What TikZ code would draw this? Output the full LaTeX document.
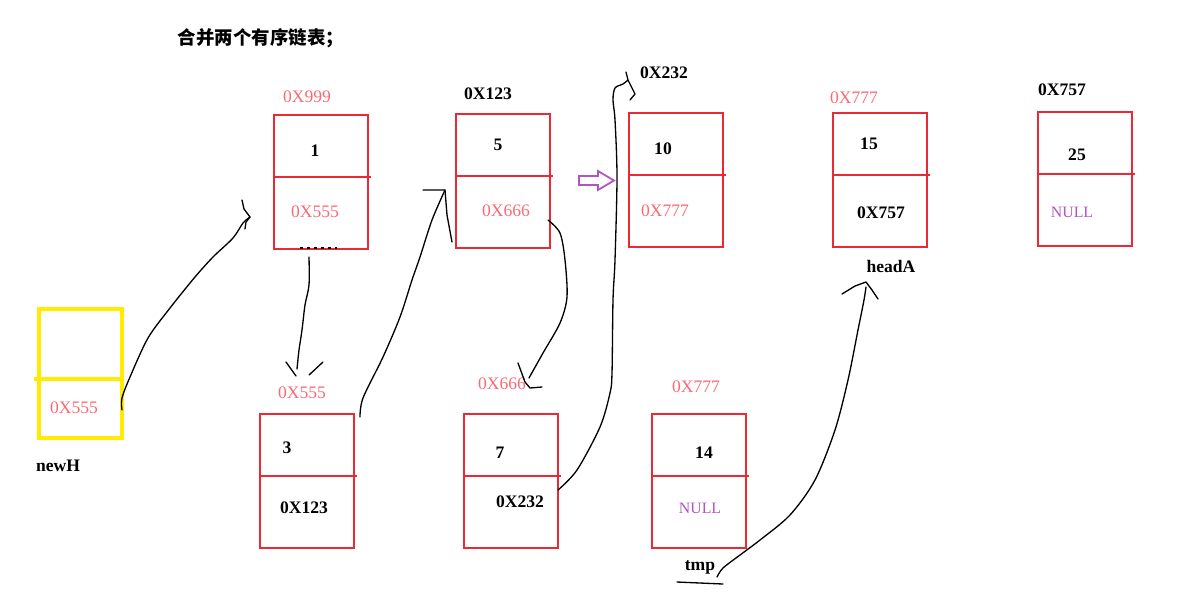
\documentclass[tikz,border=0pt]{standalone}
\usepackage{fontspec}
\setmainfont{Liberation Serif}
\newfontfamily\cjk{Noto Sans CJK SC}
\usetikzlibrary{calc}
\definecolor{boxred}{RGB}{236,40,52}
\definecolor{addrpink}{RGB}{250,105,115}
\definecolor{nullpurple}{RGB}{175,85,190}
\definecolor{headyellow}{RGB}{255,236,0}

\begin{document}
\begin{tikzpicture}[x=0.02cm,y=-0.02cm,
    every node/.style={font=\fontsize{10}{12}\selectfont},
    listbox/.style={draw=boxred,line width=1.3pt,minimum width=1.88cm,
      minimum height=2.68cm,anchor=north west,inner sep=0pt},
    addr/.style={text=addrpink},
    val/.style={font=\fontsize{10}{12}\selectfont\bfseries},
    nul/.style={text=nullpurple,font=\fontsize{9}{11}\selectfont},
    hand/.style={line width=0.75pt,line join=round,line cap=round}]
  \useasboundingbox (0,0) rectangle (1204,610);
  \node[font=\cjk\bfseries\fontsize{10.5}{12}\selectfont] (title) at (261,38) {合并两个有序链表；};

  % list boxes
  \foreach \n/\x/\y in {b1/273/114,b5/455/113,b10/628/112,b15/832/112,
                        b25/1037/111,b3/259/413,b7/463/413,b14/651/413}{
    \node[listbox] (\n) at (\x,\y) {};
    \draw[boxred,line width=1.3pt] ($(\n.north west)+(0,63)$) -- ++(98,0);
  }
  \node[listbox,draw=headyellow,line width=2.2pt,minimum width=1.66cm,
    minimum height=2.58cm] (hy) at (37,307) {};
  \draw[headyellow,line width=2.2pt] ($(hy.north west)+(-3,72)$) -- ++(86,0);

  % addresses above the boxes
  \node[addr] (a999) at (307,97) {0X999};
  \node[val] (a123) at (488,94) {0X123};
  \node[val] (a232) at (664,73) {0X232};
  \node[addr] (a777) at (854,98) {0X777};
  \node[val] (a757) at (1062,90) {0X757};
  \node[addr] (a555) at (302,393) {0X555};
  \node[addr] (a666) at (502,384) {0X666};
  \node[addr] (a777b) at (696,387) {0X777};

  % data and next fields
  \foreach \n/\x/\y/\t in {v1/315/151/1,v5/498/145/5,v10/663/149/10,
                           v15/869/144/15,v25/1077/155/25,v3/287/448/3,
                           v7/500/453/7,v14/704/453/14,p15/881/213/0X757,
                           p3/304/508/0X123,p7/520/502/0X232}{
    \node[val] (\n) at (\x,\y) {\t};
  }
  \node[addr] (p1) at (315,212) {0X555};
  \node[addr] (p5) at (506,211) {0X666};
  \node[addr] (p10) at (665,211) {0X777};
  \node[nul] (p25) at (1072,212) {NULL};
  \node[nul] (p14) at (700,508) {NULL};
  \node[addr] (pH) at (74,408) {0X555};

  \node[val] (newH) at (58,466) {newH};
  \node[val] (headA) at (891,266) {headA};
  \node[val] (tmp) at (700,567) {tmp};

  \draw[line width=1pt,dash pattern=on 1.5pt off 2.5pt] (300,248) -- (337,248);

  % purple pointer
  \draw[nullpurple,line width=1pt] (579,176) -- (598,176) -- (598,171) -- (614,180.5)
    -- (598,190) -- (598,185) -- (579,185) -- cycle;

  % hand drawn links
  \coordinate (s1) at (122,410);
  \coordinate (e1) at (250,217);
  \draw[hand] plot[smooth] coordinates {(s1) (122,398) (130,377) (148,338)
    (170,308) (195,277) (213,257) (233,238) (243,223) (e1)};
  \draw[hand] (242,200) -- (244,209) -- (e1) -- (246,222) -- (245,229);

  \coordinate (s2) at (309,257);
  \coordinate (e2) at (297,369);
  \draw[hand] plot[smooth] coordinates {(s2) (309,285) (305,305) (302,330) (299,350) (e2)};
  \draw[hand] (286,362) -- (296,376);
  \draw[hand] (323,362) -- (309,375);

  \coordinate (s3) at (360,417);
  \coordinate (e3) at (445,190);
  \draw[hand] plot[smooth] coordinates {(s3) (363,398) (383,357) (400,317)
    (412,280) (420,257) (432,220) (e3)};
  \draw[hand] (423,190) -- (e3) -- (447,215) -- (452,242);

  \coordinate (s4) at (548,220);
  \coordinate (e4) at (529,378);
  \draw[hand] plot[smooth] coordinates {(s4) (560,233) (565,260) (567,297)
    (560,323) (543,353) (e4)};
  \draw[hand] (518,363) -- (525,382) -- (530,388) -- (542,387);

  \coordinate (s5) at (558,490);
  \coordinate (e5) at (628,80);
  \draw[hand] plot[smooth] coordinates {(s5) (577,470) (600,427) (610,393)
    (612,373) (613,300) (615,260) (617,177) (615,120) (613,100) (615,88)
    (623,84) (e5)};
  \draw[hand] (626,72) -- (e5) -- (635,94) -- (630,100);

  \coordinate (s6) at (717,577);
  \coordinate (e6) at (866,287);
  \draw[hand] plot[smooth] coordinates {(s6) (723,568) (740,555) (760,540)
    (790,515) (815,480) (835,430) (848,380) (858,330) (864,300) (e6)};
  \draw[hand] (842,294) -- (855,286) -- (866,282) -- (872,290) -- (878,299);
  \draw[hand] (677,582) -- (700,583) -- (723,584);
\end{tikzpicture}
\end{document}
